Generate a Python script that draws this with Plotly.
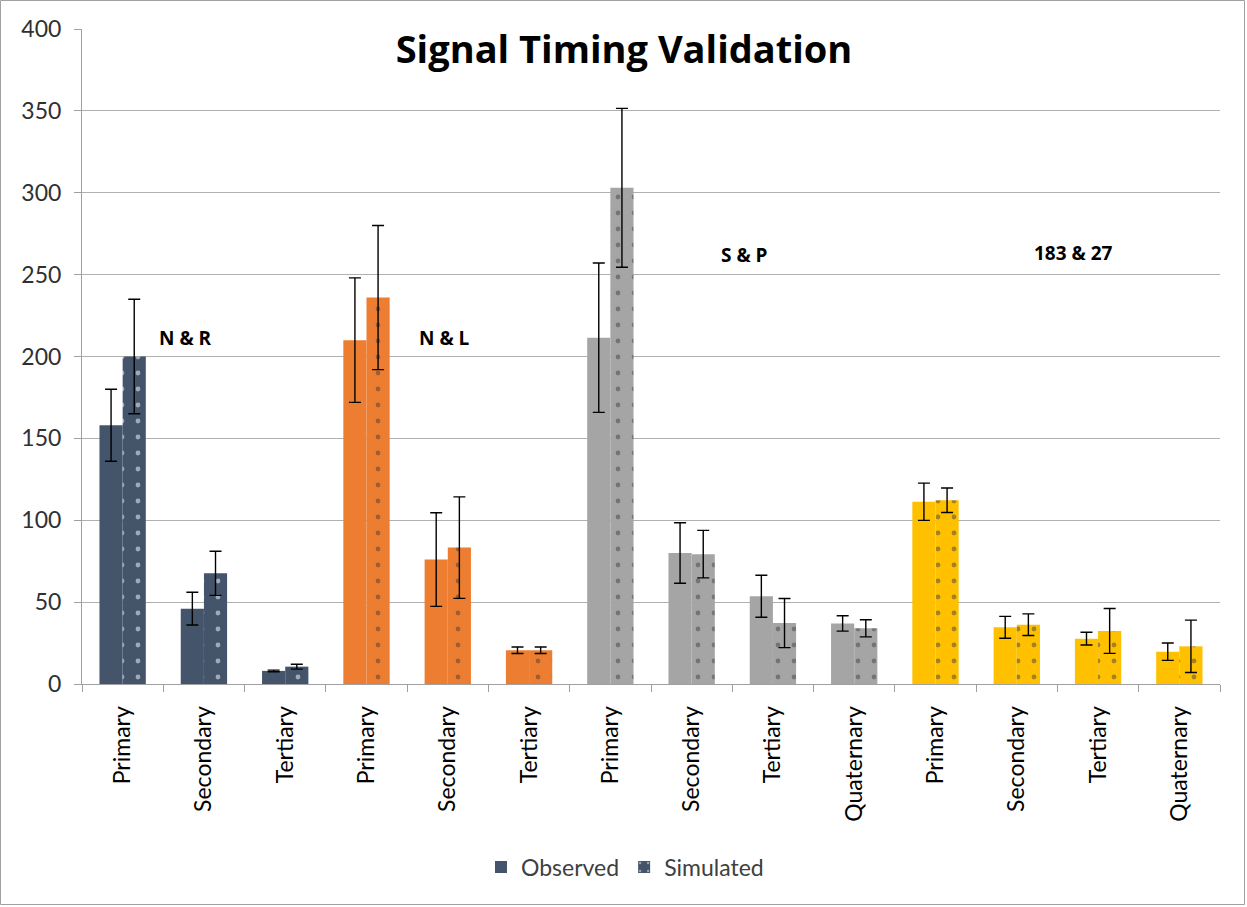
import plotly.graph_objects as go

categories = ["Primary", "Secondary", "Tertiary",
              "Primary", "Secondary", "Tertiary",
              "Primary", "Secondary", "Tertiary", "Quaternary",
              "Primary", "Secondary", "Tertiary", "Quaternary"]
observed = [158, 46, 8, 210, 76, 20.6, 211.5, 80, 53.6, 37, 111.3, 34.6, 27.7, 19.7]
observed_err = [22, 10, 0.5, 38, 28.6, 2, 45.6, 18.5, 12.8, 4.7, 11.4, 6.7, 3.9, 5.3]
simulated = [200, 67.6, 10.6, 236, 83.3, 20.6, 303, 79.3, 37.2, 34, 112.2, 36.2, 32.4, 23]
simulated_err = [35, 13.5, 1.5, 44, 31, 2, 48.5, 14.5, 15, 5.2, 7.5, 6.6, 13.7, 16]
group_colors = ["#44546A"] * 3 + ["#ED7D31"] * 3 + ["#A5A5A5"] * 4 + ["#FFC000"] * 4
group_names = ["N & R", "N & L", "S & P", "183 & 27"]
group_label_x = [0.77, 3.96, 7.65, 11.7]
group_label_y = [211, 211, 262, 263]

FONT = "Lato, 'Open Sans', sans-serif"
BOLD = "'Open Sans', Lato, sans-serif"
xs = list(range(len(categories)))

fig = go.Figure()
fig.add_trace(go.Bar(
    x=xs, y=observed, name="Observed",
    marker=dict(color=group_colors, line=dict(width=0)),
    error_y=dict(type="data", array=observed_err, color="black", thickness=1.4, width=6),
))
fig.add_trace(go.Bar(
    x=xs, y=simulated, name="Simulated",
    marker=dict(color=group_colors, line=dict(width=0),
                pattern=dict(shape=".", fgcolor="white", size=16, solidity=0.07)),
    error_y=dict(type="data", array=simulated_err, color="black", thickness=1.4, width=6),
))

for name, gx, gy in zip(group_names, group_label_x, group_label_y):
    fig.add_annotation(x=gx, y=gy, text="<b>" + name + "</b>", showarrow=False,
                       font=dict(family=BOLD, size=19, color="black"))

W, H = 1247, 907
ml, mr, mt, mb = 82, 27, 29, 223
pw, ph = W - ml - mr, H - mt - mb
fig.add_shape(type="rect", xref="paper", yref="paper",
              x0=(0.5 - ml) / pw, x1=(W - 2.5 - ml) / pw,
              y0=-(H - 2.5 - mt - ph) / ph, y1=1 + (mt - 0.5) / ph,
              line=dict(color="#A0A0A0", width=1), layer="below")

fig.update_layout(
    width=W, height=H,
    margin=dict(l=ml, r=mr, t=mt, b=mb),
    paper_bgcolor="white", plot_bgcolor="white",
    barmode="group", bargap=0.43, bargroupgap=0,
    title=dict(text="<b>Signal Timing Validation</b>", x=(624 - ml) / pw, xref="paper",
               xanchor="center", y=1 - 50 / H, yanchor="middle",
               font=dict(family=BOLD, size=38, color="black")),
    font=dict(family=FONT, size=23, color="#404040"),
    legend=dict(orientation="h", x=(625 - ml) / pw, xanchor="center",
                y=-(867 - 684) / ph, yanchor="middle",
                font=dict(family=FONT, size=23, color="#404040"), itemwidth=30),
    showlegend=True,
)
fig.update_xaxes(
    range=[-0.5, 13.5], tickmode="array", tickvals=xs, ticktext=categories,
    tickangle=-90, ticks="", showgrid=False, ticklabelstandoff=12,
    showline=True, linecolor="#A0A0A0", linewidth=1,
    tickfont=dict(family=FONT, size=23, color="black"),
    minor=dict(tickmode="linear", tick0=0.5, dtick=1, ticks="outside", ticklen=7,
               tickcolor="#A0A0A0", showgrid=False),
)
fig.update_yaxes(
    range=[0, 400], dtick=50, ticks="outside", ticklen=7, tickcolor="#A0A0A0",
    showline=True, linecolor="#A0A0A0", linewidth=1, ticklabelstandoff=8,
    showgrid=True, gridcolor="#B0B0B0", gridwidth=1,
    tickfont=dict(family=FONT, size=23, color="#303030"),
    zeroline=False,
)

fig.write_html("out.html", config={"displayModeBar": False},
               post_script="document.body.style.margin='0px';")
